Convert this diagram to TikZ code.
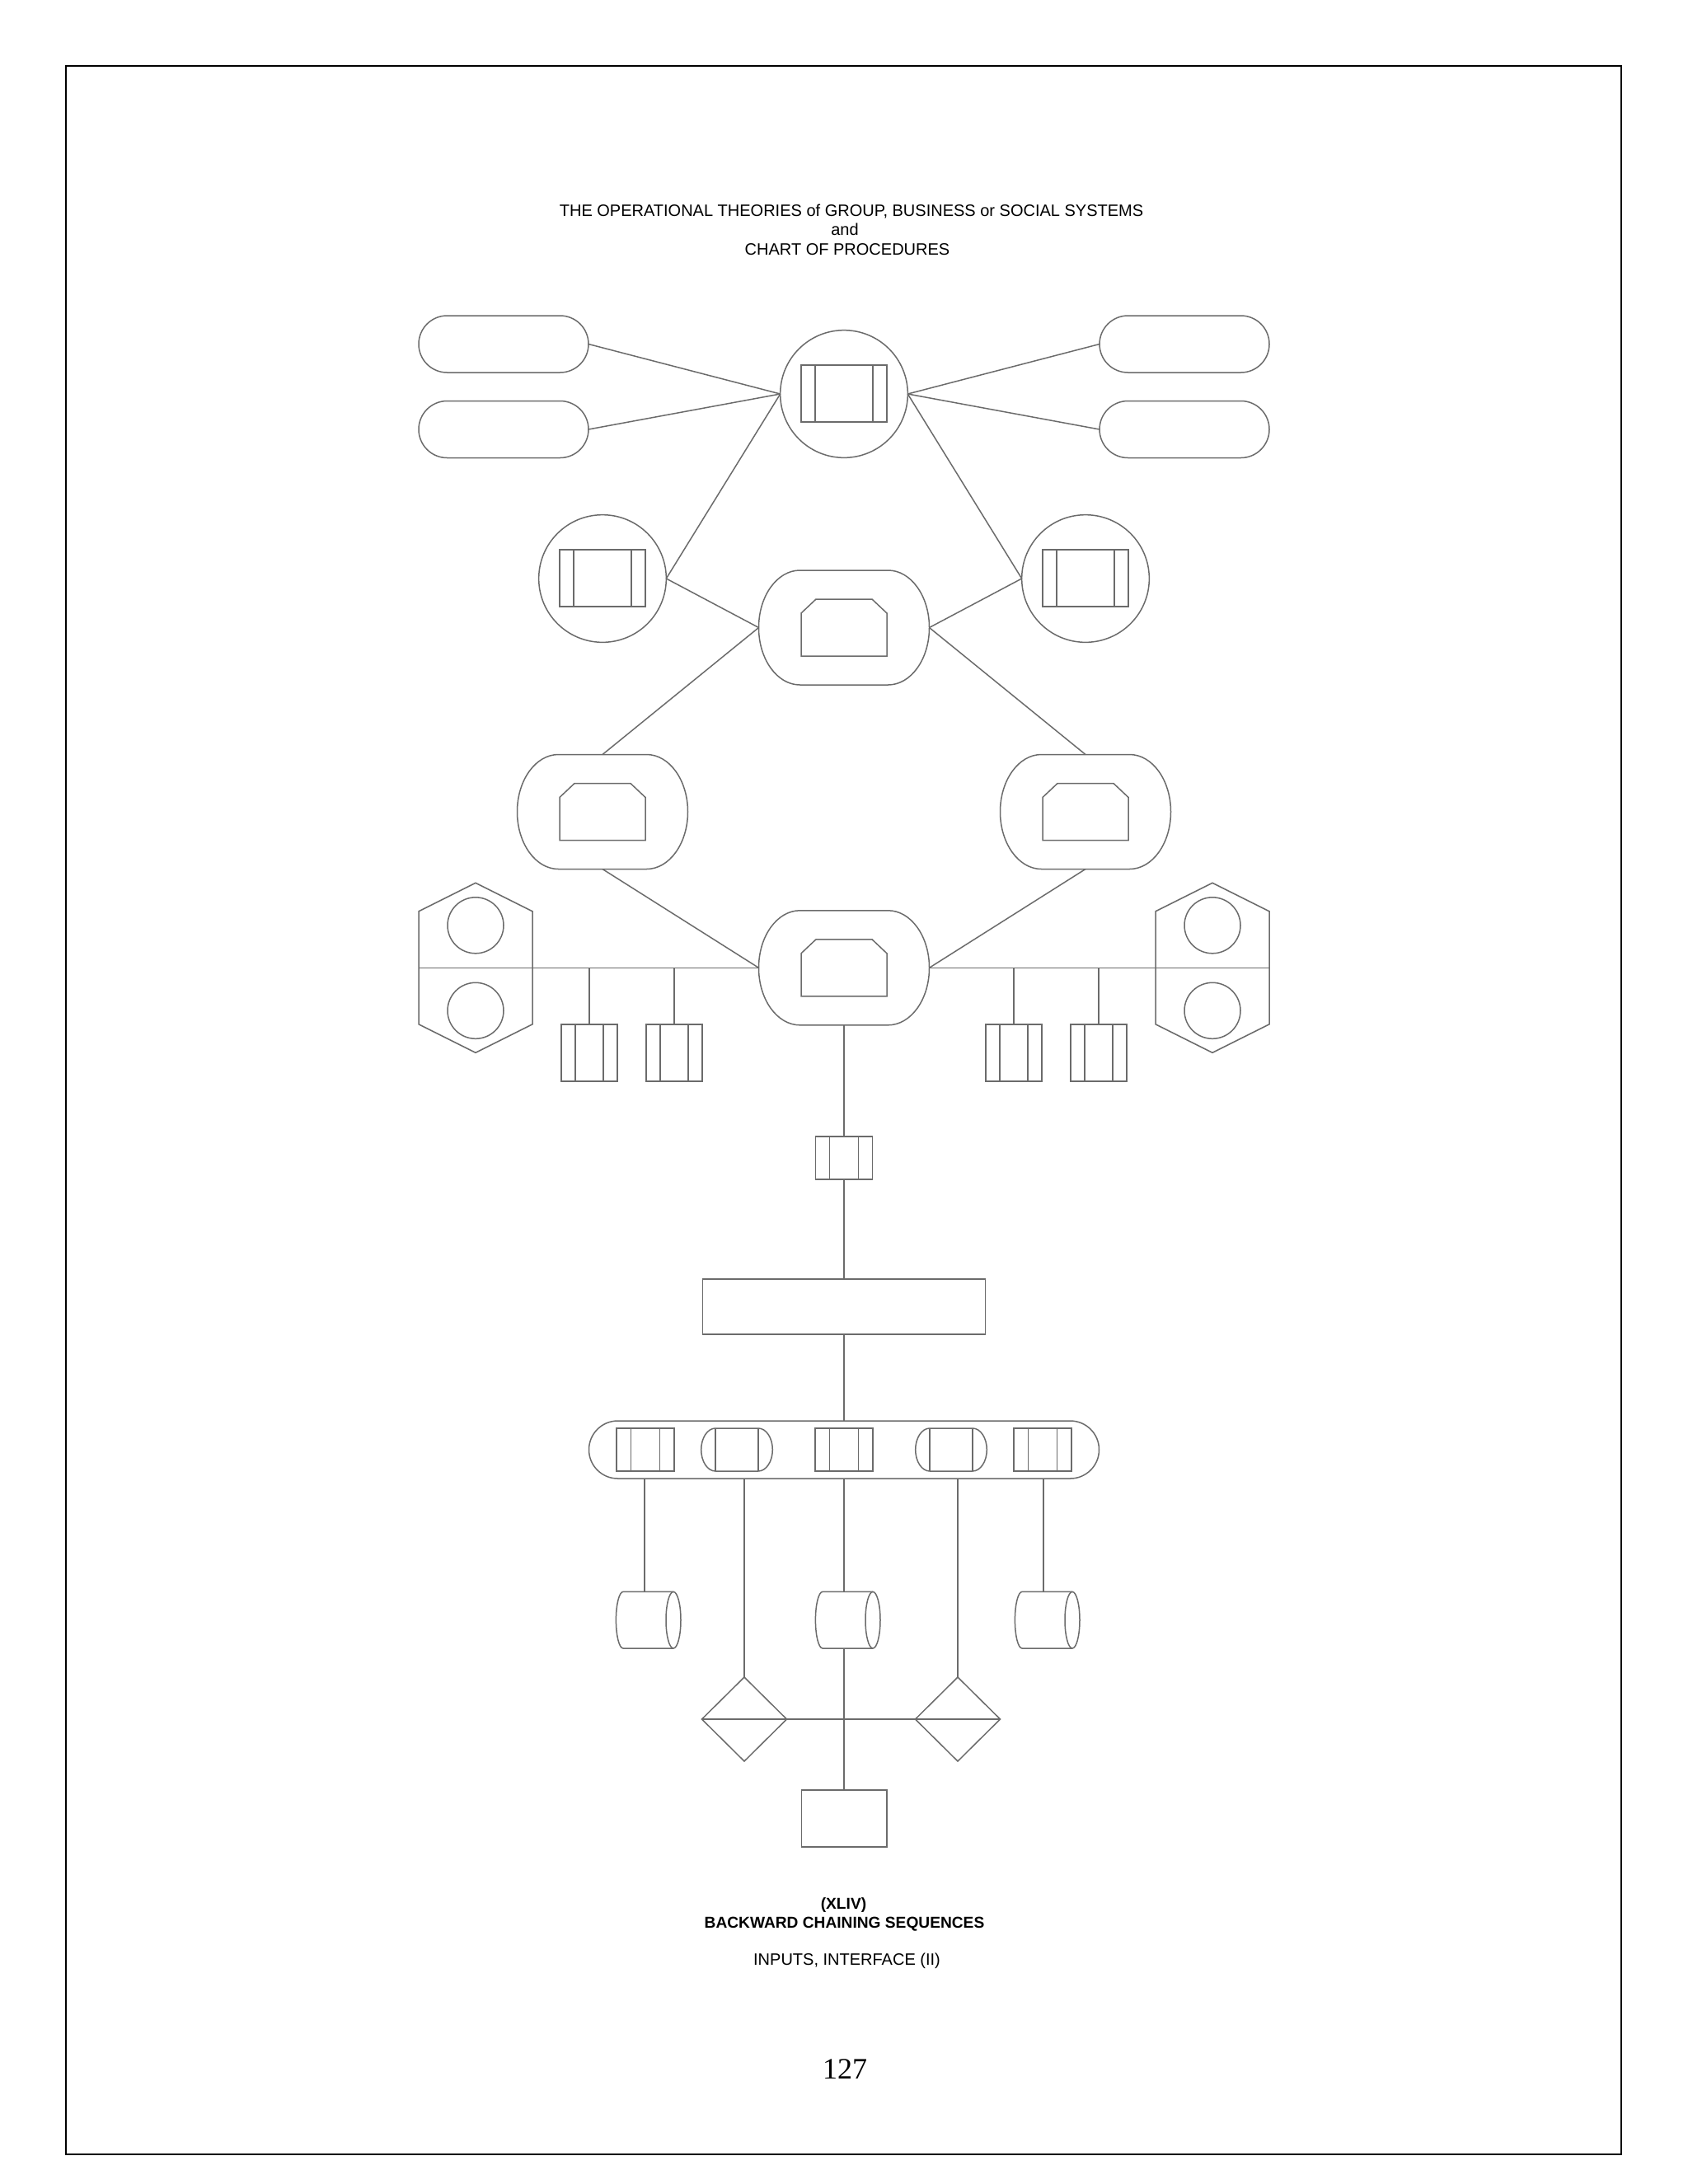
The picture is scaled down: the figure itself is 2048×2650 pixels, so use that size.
\documentclass[tikz,border=0pt]{standalone}
\usepackage{fontspec}
\setmainfont{Liberation Serif}
\newfontfamily\arialf{Liberation Sans}
\usetikzlibrary{shapes.geometric,shapes.misc}
\definecolor{lc}{gray}{0.42}
\begin{document}
\begin{tikzpicture}[x=0.3pt,y=-0.3pt,
  ln/.style={draw=lc,line width=0.45pt},
  txt/.style={font=\arialf\fontsize{6}{7}\selectfont,anchor=base,inner sep=0pt},
  btxt/.style={font=\arialf\bfseries\fontsize{5.75}{7}\selectfont,anchor=base,inner sep=0pt},
  pillnode/.style={ln,rounded rectangle,minimum width=61.8pt,minimum height=20.7pt,inner sep=0pt,outer sep=0pt},
  disknode/.style={ln,circle,minimum size=46.4pt,inner sep=0pt,outer sep=0pt},
  boxnode/.style={ln,rectangle,inner sep=0pt,outer sep=0pt},
  dianode/.style={ln,diamond,minimum width=30.9pt,minimum height=30.6pt,inner sep=0pt,outer sep=0pt},
  pics/barbox/.style args={#1/#2/#3}{code={
    \draw[ln] (-#1,-#2) rectangle (#1,#2);
    \draw[ln] (-#1+#3,-#2) -- (-#1+#3,#2) (#1-#3,-#2) -- (#1-#3,#2);
    \coordinate (-n) at (0,-#2);
    \coordinate (-s) at (0,#2);}},
  pics/ring/.style={code={
    \draw[ln] (-53.5,-69.5) -- (53.5,-69.5) arc[start angle=-90,end angle=90,x radius=50,y radius=69.5]
      -- (-53.5,69.5) arc[start angle=90,end angle=270,x radius=50,y radius=69.5] -- cycle;
    \draw[ln] (-52,34.5) -- (-52,-17.5) -- (-34,-34.5) -- (34,-34.5) -- (52,-17.5) -- (52,34.5) -- cycle;
    \coordinate (-w) at (-103.5,0);
    \coordinate (-e) at (103.5,0);
    \coordinate (-n) at (0,-69.5);
    \coordinate (-s) at (0,69.5);}},
  pics/hexa/.style={code={
    \draw[ln] (0,-103) -- (69,-68.5) -- (69,68.5) -- (0,103) -- (-69,68.5) -- (-69,-68.5) -- cycle;
    \draw[ln] (0,-51.5) circle[radius=34];
    \draw[ln] (0,52) circle[radius=34];
    \coordinate (-w) at (-69,0);
    \coordinate (-e) at (69,0);}},
  pics/barrel/.style={code={
    \draw[ln] (-26,-26) -- (26,-26) arc[start angle=-90,end angle=90,x radius=17.3,y radius=26]
      -- (-26,26) arc[start angle=90,end angle=270,x radius=17.3,y radius=26] -- cycle;
    \draw[ln] (-26,-26) -- (-26,26) (26,-26) -- (26,26);}},
  pics/cyl/.style={code={
    \draw[ln] (35,-34.3) -- (-26,-34.3) arc[start angle=270,end angle=90,x radius=8.6,y radius=34.3] -- (35,34.3);
    \draw[ln] (35,0) ellipse[x radius=9,y radius=34.3];
    \coordinate (-n) at (0,-34.3);
    \coordinate (-s) at (0,34.3);}}
]
\useasboundingbox (0,0) rectangle (2048,2650);
\draw[black,line width=0.6pt] (80,80) rectangle (1967,2614);

% titles
\node[txt] (t1) at (1033,262.7) {THE OPERATIONAL THEORIES of GROUP, BUSINESS or SOCIAL SYSTEMS};
\node[txt] (t2) at (1025,285.3) {and};
\node[txt] (t3) at (1028,309) {CHART OF PROCEDURES};

% top level
\node[pillnode] (pl1) at (611,417.5) {};
\node[pillnode] (pl2) at (611,521) {};
\node[pillnode] (pr1) at (1437,417.5) {};
\node[pillnode] (pr2) at (1437,521) {};
\node[disknode] (tc) at (1024,478) {};
\pic (tcb) at (1024,477.5) {barbox=52/34.5/17};
\node[disknode] (lc) at (731,702) {};
\pic (lcb) at (731,701.5) {barbox=52/34.5/17};
\node[disknode] (rc) at (1317,702) {};
\pic (rcb) at (1317,701.5) {barbox=52/34.5/17};

\pic (mr) at (1024,761.5) {ring};
\pic (lr) at (731,985) {ring};
\pic (rr) at (1317,985) {ring};
\pic (br) at (1024,1174.3) {ring};

\draw[ln] (pl1.east) -- (tc.west);
\draw[ln] (pl2.east) -- (tc.west);
\draw[ln] (pr1.west) -- (tc.east);
\draw[ln] (pr2.west) -- (tc.east);
\draw[ln] (tc.west) -- (lc.east);
\draw[ln] (tc.east) -- (rc.west);
\draw[ln] (lc.east) -- (mr-w);
\draw[ln] (rc.west) -- (mr-e);
\draw[ln] (mr-w) -- (lr-n);
\draw[ln] (mr-e) -- (rr-n);
\draw[ln] (lr-s) -- (br-w);
\draw[ln] (rr-s) -- (br-e);

% hexagons and side boxes
\pic (hl) at (577,1174.3) {hexa};
\pic (hr) at (1471,1174.3) {hexa};
\draw[ln] (hl-w) -- (br-w);
\draw[ln] (br-e) -- (hr-e);
\pic (sb1) at (715,1277.5) {barbox=34/34.5/17};
\pic (sb2) at (818,1277.5) {barbox=34/34.5/17};
\pic (sb3) at (1230,1277.5) {barbox=34/34.5/17};
\pic (sb4) at (1333,1277.5) {barbox=34/34.5/17};
\draw[ln] (sb1-n |- br-w) -- (sb1-n);
\draw[ln] (sb2-n |- br-w) -- (sb2-n);
\draw[ln] (sb3-n |- br-w) -- (sb3-n);
\draw[ln] (sb4-n |- br-w) -- (sb4-n);

% central chain
\pic (cb) at (1024,1405) {barbox=34.5/25.8/17};
\node[boxnode,minimum width=102.9pt,minimum height=20.1pt] (big) at (1024,1585.5) {};
\draw[ln] (br-s) -- (cb-n);
\draw[ln] (cb-s) -- (big.north);
\node[ln,rounded rectangle,minimum width=185.7pt,minimum height=21pt,inner sep=0pt,outer sep=0pt] (bp) at (1024,1759) {};
\draw[ln] (big.south) -- (bp.north);
\pic (ib1) at (783,1759) {barbox=34.8/26/17.5};
\pic (ib2) at (894,1759) {barrel};
\pic (ib3) at (1024,1759) {barbox=34.8/26/17.5};
\pic (ib4) at (1154,1759) {barrel};
\pic (ib5) at (1265,1759) {barbox=34.8/26/17.5};

% lower level
\pic (cy1) at (782,1965.7) {cyl};
\pic (cy2) at (1024,1965.7) {cyl};
\pic (cy3) at (1266,1965.7) {cyl};
\node[dianode] (dl) at (903,2086) {};
\node[dianode] (dr) at (1162,2086) {};
\node[boxnode,minimum width=31.05pt,minimum height=20.7pt] (sq) at (1024,2206.5) {};
\draw[ln] (cy1-n |- bp.south) -- (cy1-n);
\draw[ln] (cy2-n |- bp.south) -- (cy2-n);
\draw[ln] (cy3-n |- bp.south) -- (cy3-n);
\draw[ln] (dl.north |- bp.south) -- (dl.north);
\draw[ln] (dr.north |- bp.south) -- (dr.north);
\draw[ln] (dl.west) -- (dr.east);
\draw[ln] (cy2-s) -- (sq.north);

% bottom captions
\node[btxt] (c1) at (1023.5,2316.7) {(XLIV)};
\node[btxt] (c2) at (1024.5,2339) {BACKWARD CHAINING SEQUENCES};
\node[txt] (c3) at (1027.5,2384.3) {INPUTS, INTERFACE (II)};
\node[font=\fontsize{10.8}{12}\selectfont,anchor=base,inner sep=0pt] (pg) at (1025,2522.7) {127};
\end{tikzpicture}
\end{document}
